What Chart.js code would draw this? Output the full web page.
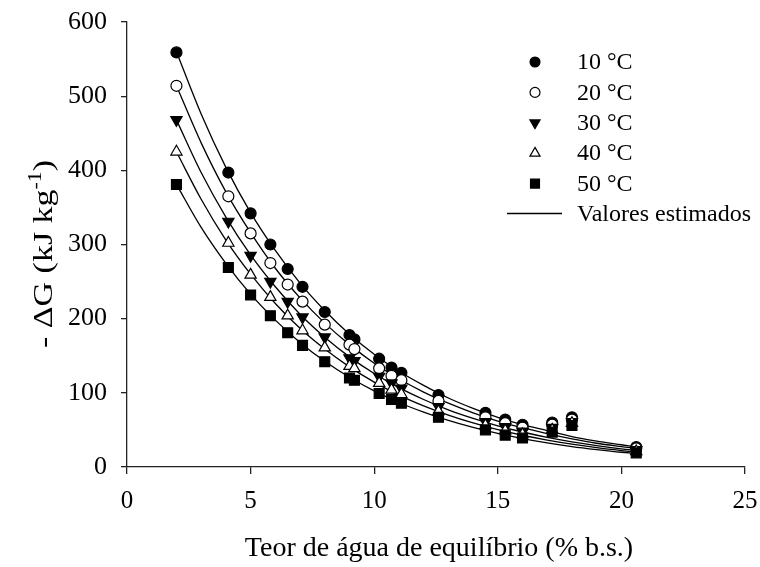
<!DOCTYPE html>
<html>
<head>
<meta charset="utf-8">
<script src="https://cdn.jsdelivr.net/npm/chart.js@4/dist/chart.umd.min.js"></script>
<style>
  html, body { margin: 0; padding: 0; background: #fff; }
  canvas { display: block; }
</style>
</head>
<body>
<canvas id="chart" width="760" height="567"></canvas>
<script>
// Observed points: equilibrium moisture content (% d.b.) vs -ΔG (kJ/kg)
const moisture = [2.0, 4.1, 5.0, 5.8, 6.5, 7.1, 8.0, 9.0, 9.2, 10.2, 10.7, 11.1, 12.6, 14.5, 15.3, 16.0, 17.2, 18.0, 20.6];
const dG10 = [559, 397, 342, 300, 267, 243, 209, 178, 172, 146, 134, 127, 97, 73, 64, 57, 60, 67, 27];
const dG20 = [514, 365, 315, 275, 246, 223, 192, 165, 159, 133, 123, 117, 89, 67, 59, 53, 57, 64, 25];
const dG30 = [468, 331, 285, 250, 223, 202, 175, 147, 143, 122, 113, 106, 81, 61, 54, 48, 53, 61, 23];
const dG40 = [425, 302, 259, 229, 204, 184, 161, 136, 133, 113, 104, 98, 75, 56, 49, 44, 50, 59, 21];
const dG50 = [381, 269, 232, 204, 181, 164, 142, 120, 117, 99, 91, 86, 67, 50, 43, 39, 47, 56, 19];

// Estimated curves
const fitX = [2, 3, 4, 5, 6, 7, 8, 9, 10, 11, 12, 13, 14, 15, 16, 17, 18, 19, 20, 20.6];
const fit10 = [560, 476, 404, 343, 292, 248, 211, 179, 152, 129, 110, 93, 79, 67, 57, 49, 41, 35, 30, 27];
const fit20 = [514, 437, 371, 316, 268, 228, 194, 165, 140, 119, 101, 86, 73, 62, 53, 45, 38, 32, 27.5, 25];
const fit30 = [468, 397, 337, 286, 243, 206, 175, 148.5, 126, 107, 91, 77, 65.5, 55.6, 47.2, 40, 34, 28.9, 24.5, 22.3];
const fit40 = [425, 361, 306, 260, 220.5, 187, 159, 135, 114.5, 97, 82.5, 70, 59.4, 50.4, 42.8, 36.3, 30.8, 26.1, 22.2, 20.2];
const fit50 = [381, 323, 274.5, 233, 198, 168, 142.5, 121, 102.6, 87, 74, 62.8, 53.3, 45.2, 38.4, 32.6, 27.6, 23.5, 19.9, 18.2];

const xTicks = [0, 5, 10, 15, 20, 25];
const yTicks = [0, 100, 200, 300, 400, 500, 600];
const xTitle = "Teor de água de equilíbrio (% b.s.)";
const yTitleMain = "- ΔG (kJ kg";
const yTitleSup = "-1";
const yTitleEnd = ")";
const lineLabel = "Valores estimados";

const FONT = "'Liberation Serif', 'Times New Roman', serif";
const INK = "#000";
const AXIS = "#222";

const series = [
  { label: "10 °C", data: dG10, fit: fit10, style: "circle", fill: "#000", radius: 5.5, rotation: 0 },
  { label: "20 °C", data: dG20, fit: fit20, style: "circle", fill: "#fff", radius: 5.5, rotation: 0 },
  { label: "30 °C", data: dG30, fit: fit30, style: "triangle", fill: "#000", radius: 6.5, rotation: 180 },
  { label: "40 °C", data: dG40, fit: fit40, style: "triangle", fill: "#fff", radius: 6.5, rotation: 0 },
  { label: "50 °C", data: dG50, fit: fit50, style: "rect", fill: "#000", radius: 7, rotation: 0 },
];

const datasets = [];
series.forEach((s) => {
  datasets.push({
    label: "fit " + s.label,
    data: fitX.map((x, i) => ({ x, y: s.fit[i] })),
    showLine: true,
    borderColor: INK,
    borderWidth: 1.3,
    pointRadius: 0,
    cubicInterpolationMode: "monotone",
    fill: false,
    order: 10,
  });
});
series.forEach((s, i) => {
  datasets.push({
    label: s.label,
    data: moisture.map((x, j) => ({ x, y: s.data[j] })),
    showLine: false,
    pointStyle: s.style,
    pointRadius: s.radius,
    pointRotation: s.rotation,
    backgroundColor: s.fill,
    borderColor: INK,
    borderWidth: 1.2,
    order: 5 - i,
  });
});

function drawMarker(ctx, s, x, y) {
  ctx.save();
  ctx.fillStyle = s.fill;
  ctx.strokeStyle = INK;
  ctx.lineWidth = 1.2;
  Chart.helpers.drawPoint(ctx, { pointStyle: s.style, rotation: s.rotation, radius: s.radius * 0.9, borderWidth: 1.2 }, x, y);
  ctx.restore();
}

// Axis titles (with superscript) and legend, drawn on top of the chart
const decorations = {
  id: "decorations",
  afterDraw(chart) {
    const ctx = chart.ctx;
    const area = chart.chartArea;
    ctx.save();
    ctx.fillStyle = INK;

    // x title
    ctx.font = `28px ${FONT}`;
    ctx.textAlign = "center";
    ctx.textBaseline = "alphabetic";
    ctx.fillText(xTitle, (area.left + area.right) / 2 + 3, 556);

    // y title, rotated, with superscript
    ctx.save();
    ctx.translate(52, 254);
    ctx.rotate(-Math.PI / 2);
    const mainFont = `28px ${FONT}`;
    const supFont = `18px ${FONT}`;
    ctx.font = mainFont;
    const w1 = ctx.measureText(yTitleMain).width;
    const w3 = ctx.measureText(yTitleEnd).width;
    ctx.font = supFont;
    const w2 = ctx.measureText(yTitleSup).width;
    const total = w1 + w2 + w3;
    const stretch = 188 / total;
    ctx.scale(stretch, 1);
    ctx.textAlign = "left";
    let x0 = -total / 2;
    ctx.font = mainFont;
    ctx.fillText(yTitleMain, x0, 0);
    ctx.font = supFont;
    ctx.fillText(yTitleSup, x0 + w1, -11);
    ctx.font = mainFont;
    ctx.fillText(yTitleEnd, x0 + w1 + w2, 0);
    ctx.restore();

    // legend
    ctx.font = `24px ${FONT}`;
    ctx.textAlign = "left";
    ctx.textBaseline = "middle";
    series.forEach((s, i) => {
      const y = 62 + i * 30.4;
      drawMarker(ctx, s, 535, y);
      ctx.fillStyle = INK;
      ctx.fillText(s.label, 577, y + 1);
    });
    const ly = 213.5;
    ctx.strokeStyle = INK;
    ctx.lineWidth = 1.3;
    ctx.beginPath();
    ctx.moveTo(507, ly);
    ctx.lineTo(562, ly);
    ctx.stroke();
    ctx.fillText(lineLabel, 577, ly + 1);

    ctx.restore();
  },
};

new Chart(document.getElementById("chart"), {
  type: "scatter",
  data: { datasets },
  options: {
    responsive: false,
    animation: false,
    devicePixelRatio: 1,
    layout: { padding: { top: 22, right: 15, left: 0, bottom: 0 } },
    plugins: { legend: { display: false }, tooltip: { enabled: false } },
    scales: {
      x: {
        type: "linear",
        min: 0,
        max: 25,
        afterBuildTicks: (s) => { s.ticks = xTicks.map((v) => ({ value: v })); },
        afterFit: (s) => { s.height = 100; s.paddingLeft = 0; s.paddingRight = 0; },
        ticks: { color: INK, font: { family: FONT, size: 25 }, padding: 12 },
        grid: { drawOnChartArea: false, drawTicks: true, tickLength: 7, color: AXIS, lineWidth: 1.3 },
        border: { display: true, color: AXIS, width: 1.3 },
      },
      y: {
        type: "linear",
        min: 0,
        max: 600,
        afterBuildTicks: (s) => { s.ticks = yTicks.map((v) => ({ value: v })); },
        afterFit: (s) => { s.width = 127; s.paddingTop = 0; s.paddingBottom = 0; },
        ticks: { color: INK, font: { family: FONT, size: 26 }, padding: 14 },
        grid: { drawOnChartArea: false, drawTicks: true, tickLength: 6, color: AXIS, lineWidth: 1.3 },
        border: { display: true, color: AXIS, width: 1.3 },
      },
    },
  },
  plugins: [decorations],
});
</script>
</body>
</html>
